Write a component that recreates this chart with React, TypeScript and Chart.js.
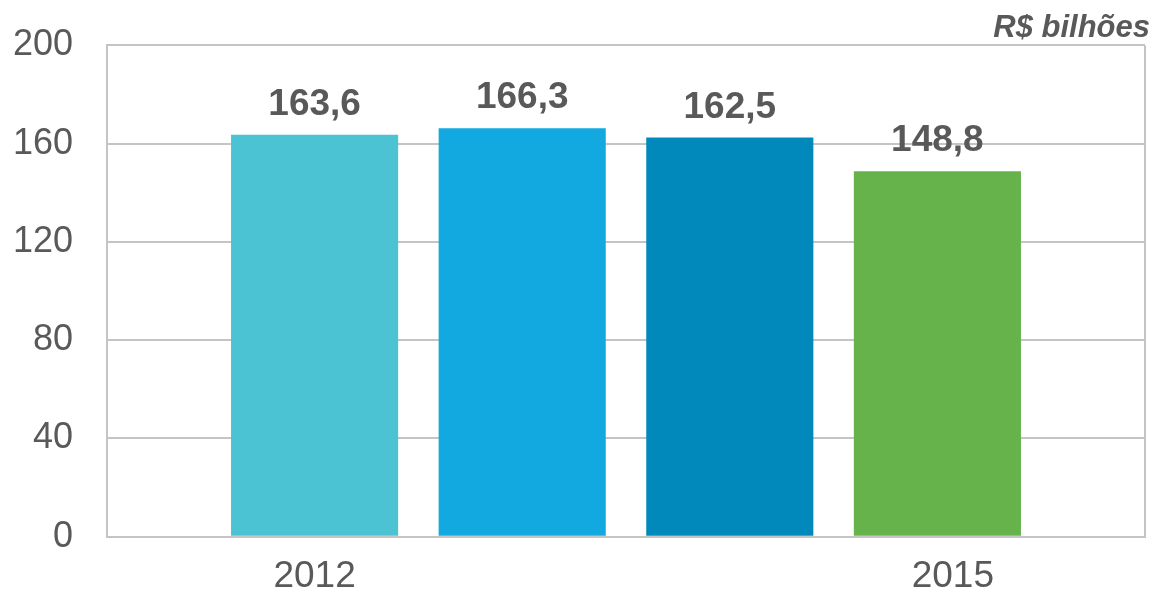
import React, { useEffect, useRef } from "react";
import { Chart, registerables } from "chart.js";

Chart.register(...registerables);

// ---- Data ----
const categories = ["2012", "2013", "2014", "2015"];
const values = [163.6, 166.3, 162.5, 148.8];
const barColors = ["#4BC3D2", "#12A8E0", "#0289BB", "#65B34A"];
const shownYears = ["2012", "2015"];
const yTicks = [0, 40, 80, 120, 160, 200];
const unitLabel = "R$ bilhões";

const TEXT = "#595959";
const GRID = "#C4C4C4";
const FONT = "Arial, 'Liberation Sans', sans-serif";

// padded axis: an empty slot on each side of the four bars
const axisLabels = ["", ...categories, ""];
const axisData = [null, ...values, null];
const axisColors = ["rgba(0,0,0,0)", ...barColors, "rgba(0,0,0,0)"];

const formatValue = (v: number) => v.toFixed(1).replace(".", ",");

const overlayText = {
  id: "overlayText",
  afterDatasetsDraw(chart: any) {
    const ctx = chart.ctx;
    const meta = chart.getDatasetMeta(0);
    ctx.save();
    ctx.fillStyle = TEXT;
    ctx.font = `bold 37px ${FONT}`;
    ctx.textAlign = "center";
    ctx.textBaseline = "alphabetic";
    meta.data.forEach((el: any, i: number) => {
      const v = chart.data.datasets[0].data[i];
      if (v == null) return;
      ctx.fillText(formatValue(v), el.x, el.y - 20);
    });
    ctx.font = `italic bold 31px ${FONT}`;
    ctx.textAlign = "right";
    ctx.fillText(unitLabel, chart.chartArea.right + 5, 37);
    ctx.restore();
  },
};

export default function App() {
  const canvasRef = useRef<HTMLCanvasElement | null>(null);

  useEffect(() => {
    if (!canvasRef.current) return;
    const chart = new Chart(canvasRef.current, {
      type: "bar",
      data: {
        labels: axisLabels,
        datasets: [
          {
            data: axisData as any,
            backgroundColor: axisColors,
            borderWidth: 0,
            categoryPercentage: 1,
            barPercentage: 0.805,
          },
        ],
      },
      options: {
        animation: false,
        responsive: false,
        devicePixelRatio: 1,
        layout: { padding: { top: 45.4, right: 10, left: 0, bottom: 0 } },
        plugins: {
          legend: { display: false },
          tooltip: { enabled: false },
        },
        scales: {
          x: {
            offset: false,
            grid: {
              offset: false,
              drawTicks: false,
              lineWidth: 2,
              color: (c: any) =>
                c.index === 0 || c.index === axisLabels.length - 1 ? GRID : "rgba(0,0,0,0)",
            },
            border: { display: true, color: GRID, width: 2 },
            ticks: {
              autoSkip: false,
              maxRotation: 0,
              padding: 18,
              color: TEXT,
              font: { family: FONT, size: 37 },
              callback: function (this: any, value: any) {
                const label = this.getLabelForValue(value);
                if (!shownYears.includes(label)) return "";
                return label === "2015" ? "   " + label : label;
              },
            },
            afterFit: (scale: any) => {
              scale.height = 55.3;
              scale.paddingLeft = 0;
              scale.paddingRight = 0;
              scale.paddingTop = 0;
              scale.paddingBottom = 0;
            },
          },
          y: {
            min: 0,
            max: 200,
            afterBuildTicks: (scale: any) => {
              scale.ticks = yTicks.map((v) => ({ value: v }));
            },
            grid: { drawTicks: false, lineWidth: 2, color: GRID },
            border: { display: true, color: GRID, width: 2 },
            ticks: {
              padding: 34,
              color: TEXT,
              font: { family: FONT, size: 36 },
            },
            afterFit: (scale: any) => {
              scale.width = 107;
              scale.paddingLeft = 0;
              scale.paddingRight = 0;
              scale.paddingTop = 0;
              scale.paddingBottom = 0;
            },
          },
        },
      },
      plugins: [overlayText],
    });
    return () => chart.destroy();
  }, []);

  return (
    <div style={{ position: "fixed", left: 0, top: 0, width: 1155, height: 592, background: "#fff" }}>
      <canvas ref={canvasRef} width={1155} height={592} style={{ display: "block" }} />
    </div>
  );
}
